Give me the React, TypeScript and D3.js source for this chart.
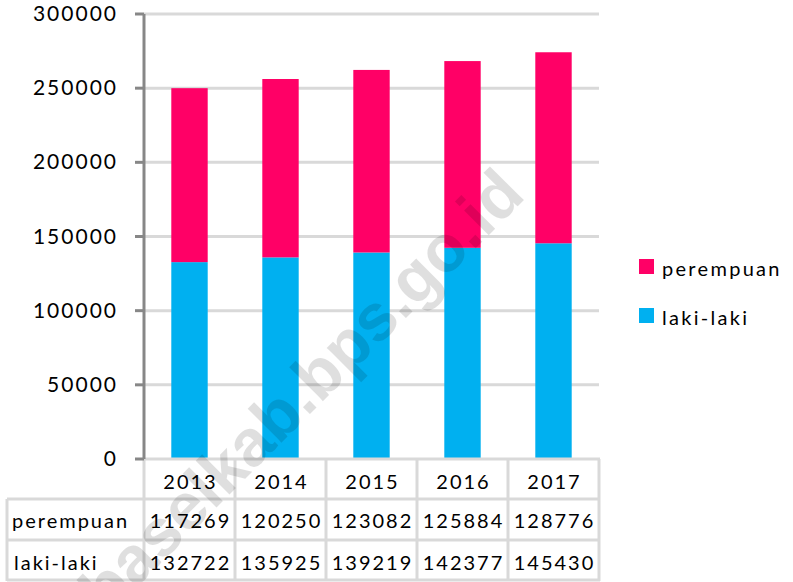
import React from "react";
import * as d3 from "d3";

const years = ["2013", "2014", "2015", "2016", "2017"];
const perempuan = [117269, 120250, 123082, 125884, 128776];
const lakiLaki = [132722, 135925, 139219, 142377, 145430];
const yTicks = [0, 50000, 100000, 150000, 200000, 250000, 300000];
const seriesNames = ["perempuan", "laki-laki"];
const colors = { perempuan: "#FF0066", "laki-laki": "#00B0F0" };

const W = 793;
const H = 582;
const FONT = "Lato, 'Open Sans', sans-serif";

export default function App() {
  const y = d3.scaleLinear().domain([0, 300000]).range([459, 14]);
  const xBar = d3.scaleBand<string>().domain(years).range([144, 599]).paddingInner(0.6).paddingOuter(0.3);
  const xCol = d3.scaleBand<string>().domain(years).range([144, 599]);

  const data = years.map((yr, i) => ({ year: yr, "laki-laki": lakiLaki[i], perempuan: perempuan[i] }));
  const stack = d3.stack<any>().keys(["laki-laki", "perempuan"]);
  const stacked = stack(data);

  const gridColor = "#d9d9d9";
  const rowTop = 459;
  const rowH = [40, 41, 41];
  const rowY = [rowTop, rowTop + rowH[0], rowTop + rowH[0] + rowH[1], rowTop + rowH[0] + rowH[1] + rowH[2]];
  const leftX = 7;

  return (
    <svg width={W} height={H} style={{ position: "absolute", left: 0, top: 0, background: "#fff" }}>
      <rect x={0} y={0} width={W} height={H} fill="#fff" />
      {/* gridlines */}
      {yTicks.slice(1).map((t) => (
        <line key={t} x1={144} x2={599} y1={y(t)} y2={y(t)} stroke={gridColor} strokeWidth={3} />
      ))}
      {/* bars */}
      {stacked.map((s) => (
        <g key={s.key} fill={(colors as any)[s.key]}>
          {s.map((d, i) => (
            <rect key={i} x={xBar(years[i])} width={xBar.bandwidth()} y={y(d[1])} height={y(d[0]) - y(d[1])} />
          ))}
        </g>
      ))}
      {/* table borders */}
      <g stroke={gridColor} strokeWidth={3}>
        <line x1={144} x2={600} y1={rowY[0]} y2={rowY[0]} />
        <line x1={leftX} x2={600} y1={rowY[1]} y2={rowY[1]} />
        <line x1={leftX} x2={600} y1={rowY[2]} y2={rowY[2]} />
        <line x1={leftX} x2={600} y1={rowY[3] - 1} y2={rowY[3] - 1} />
        <line x1={leftX} x2={leftX} y1={rowY[1]} y2={rowY[3]} />
        {years.map((yr) => (
          <line key={yr} x1={(xCol(yr) as number) + xCol.bandwidth()} x2={(xCol(yr) as number) + xCol.bandwidth()} y1={rowY[0]} y2={rowY[3]} />
        ))}
        <line x1={144} x2={144} y1={rowY[0]} y2={rowY[3]} />
      </g>
      {/* y axis */}
      <line x1={144} x2={144} y1={y(300000)} y2={y(0)} stroke="#878787" strokeWidth={3} />
      {yTicks.map((t) => (
        <g key={t}>
          <line x1={135} x2={144} y1={y(t)} y2={y(t)} stroke="#878787" strokeWidth={3} />
          <text x={118} y={y(t) + 7} textAnchor="end" fontFamily={FONT} fontSize={21} letterSpacing={2} fill="#000">
            {t}
          </text>
        </g>
      ))}
      {/* table text */}
      <g fontFamily={FONT} fontSize={20} letterSpacing={2} fill="#000">
        {years.map((yr) => (
          <text key={yr} x={(xCol(yr) as number) + xCol.bandwidth() / 2 + 1} y={489} textAnchor="middle">{yr}</text>
        ))}
        <text x={12} y={528}>perempuan</text>
        <text x={14} y={570}>laki-laki</text>
        {years.map((yr, i) => (
          <text key={"p" + yr} x={(xCol(yr) as number) + xCol.bandwidth() / 2 + 1} y={528} textAnchor="middle">{perempuan[i]}</text>
        ))}
        {years.map((yr, i) => (
          <text key={"l" + yr} x={(xCol(yr) as number) + xCol.bandwidth() / 2 + 1} y={570} textAnchor="middle">{lakiLaki[i]}</text>
        ))}
      </g>
      {/* legend */}
      <g fontFamily={FONT} fontSize={20} letterSpacing={2.3} fill="#000">
        {seriesNames.map((n, i) => (
          <g key={n}>
            <rect x={639} y={259 + i * 49} width={15} height={15} fill={(colors as any)[n]} />
            <text x={662} y={276 + i * 49}>{n}</text>
          </g>
        ))}
      </g>
      {/* watermark */}
      <text
        x={317}
        y={407}
        textAnchor="middle"
        fontFamily="'Liberation Sans', Arial, sans-serif"
        fontWeight="bold"
        fontSize={66}
        fill="#000"
        opacity={0.12}
        transform="rotate(-45 317 407)"
      >
        baselkab.bps.go.id
      </text>
    </svg>
  );
}
